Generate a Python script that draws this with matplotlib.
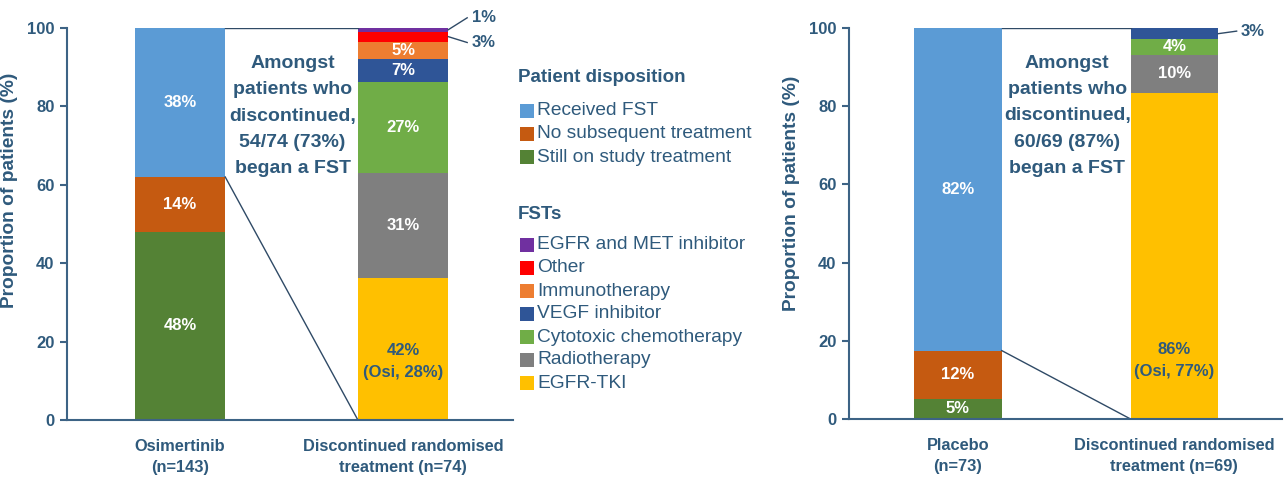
import matplotlib.pyplot as plt
from matplotlib.patches import Rectangle

TEXT = '#2F5A7C'
SPINE = '#3D6385'
LINK = '#2F4A66'
BOLD = ['Liberation Sans', 'DejaVu Sans']
REGULAR = ['Liberation Sans', 'DejaVu Sans']

# patient disposition (bottom -> top)
disp_names = ['Still on study treatment', 'No subsequent treatment', 'Received FST']
disp_colors = ['#548235', '#C55A11', '#5B9BD5']

# first subsequent therapies (bottom -> top)
fst_names = ['EGFR-TKI', 'Radiotherapy', 'Cytotoxic chemotherapy', 'VEGF inhibitor',
             'Immunotherapy', 'Other', 'EGFR and MET inhibitor']
fst_colors = ['#FFC000', '#7F7F7F', '#70AD47', '#2F5597', '#ED7D31', '#FF0000', '#7030A0']

# left panel: osimertinib
left_groups = ['Osimertinib\n(n=143)', 'Discontinued randomised\ntreatment (n=74)']
left_disp = [48, 14, 38]
left_disp_labels = ['48%', '14%', '38%']
left_fst = [36.2, 26.7, 23.3, 6.0, 4.3, 2.6, 0.9]
left_fst_labels = ['42%\n(Osi, 28%)', '31%', '27%', '7%', '5%', '3%', '1%']
left_callout = 'Amongst\npatients who\ndiscontinued,\n54/74 (73%)\nbegan a FST'

# right panel: placebo
right_groups = ['Placebo\n(n=73)', 'Discontinued randomised\ntreatment (n=69)']
right_disp = [5.2, 12.3, 82.5]
right_disp_labels = ['5%', '12%', '82%']
right_fst = [83.5, 9.7, 3.9, 2.9]
right_fst_labels = ['86%\n(Osi, 77%)', '10%', '4%', '3%']
right_callout = 'Amongst\npatients who\ndiscontinued,\n60/69 (87%)\nbegan a FST'

W = 0.405
TKI_LABEL_Y = 15
LAB_FS = 12


def draw_panel(ax, groups, disp, disp_labels, fst, fst_labels, callout, outside):
    # outside: {segment index: label y} for tiny segments labelled beside the bar
    bottom = 0
    for h, c, lab in zip(disp, disp_colors, disp_labels):
        ax.bar(0, h, W, bottom=bottom, color=c, linewidth=0)
        ax.text(0, bottom + h / 2, lab, ha='center', va='center', color='white',
                fontsize=LAB_FS, fontweight='bold', family=BOLD)
        bottom += h
    fst_link = disp[0] + disp[1]

    bottom = 0
    for i, (h, lab) in enumerate(zip(fst, fst_labels)):
        ax.bar(1, h, W, bottom=bottom, color=fst_colors[i], linewidth=0)
        mid = bottom + h / 2
        if i in outside:
            ty = outside[i]
            ax.plot([1 + W / 2, 1 + W / 2 + 0.085], [mid, ty], color=LINK, lw=1, clip_on=False)
            ax.text(1 + W / 2 + 0.105, ty, lab, ha='left', va='center', color=TEXT,
                    fontsize=LAB_FS, fontweight='bold', family=BOLD)
        elif i == 0:
            ax.text(1, TKI_LABEL_Y, lab, ha='center', va='center', color=TEXT,
                    fontsize=LAB_FS, fontweight='bold', family=BOLD, linespacing=1.6)
        else:
            ax.text(1, mid, lab, ha='center', va='center', color='white',
                    fontsize=LAB_FS, fontweight='bold', family=BOLD)
        bottom += h

    # zoom lines from the "received FST" block to the FST bar
    ax.plot([W / 2, 1 - W / 2], [100, 100], color=LINK, lw=1)
    ax.plot([W / 2, 1 - W / 2], [fst_link, 0], color=LINK, lw=1)

    ax.text(0.505, 77.5, callout, ha='center', va='center', color=TEXT,
            fontsize=14, fontweight='bold', family=BOLD, linespacing=1.72)

    ax.set_ylim(0, 100)
    ax.set_xticks([0, 1])
    ax.set_xticklabels(groups, color=TEXT, fontsize=11.8, fontweight='bold',
                       family=BOLD, linespacing=1.55)
    ax.set_yticks(range(0, 101, 20))
    for t in ax.get_yticklabels():
        t.set_fontweight('bold')
        t.set_family(BOLD)
    ax.tick_params(axis='y', colors=SPINE, labelcolor=TEXT, labelsize=12,
                   length=5, width=1.5, direction='out', pad=4)
    ax.tick_params(axis='x', length=0, pad=13.5)
    ax.set_ylabel('Proportion of patients (%)', color=TEXT, fontsize=13.8,
                  fontweight='bold', family=BOLD)
    for s in ['top', 'right']:
        ax.spines[s].set_visible(False)
    for s in ['left', 'bottom']:
        ax.spines[s].set_color(SPINE)
        ax.spines[s].set_linewidth(1.5)


fig = plt.figure(figsize=(12.87, 4.87), dpi=100)
H = 487.0
WF = 1287.0

ax1 = fig.add_axes([67 / WF, (H - 420) / H, 446 / WF, 392 / H])
ax1.set_xlim(-0.507, 1.493)
draw_panel(ax1, left_groups, left_disp, left_disp_labels, left_fst, left_fst_labels,
           left_callout, {5: 96.3, 6: 102.6})
ax1.yaxis.set_label_coords(-0.11, 0.587)

ax2 = fig.add_axes([849 / WF, (H - 419) / H, 433 / WF, 391 / H])
ax2.set_xlim(-0.503, 1.497)
draw_panel(ax2, right_groups, right_disp, right_disp_labels, right_fst, right_fst_labels,
           right_callout, {3: 99.2})
ax2.yaxis.set_label_coords(-0.113, 0.578)


# legend drawn by hand between the panels
def legend_block(title, title_y, names, colors, first_y, step):
    fig.text(518 / WF, 1 - title_y / H, title, ha='left', va='center', color=TEXT,
             fontsize=13.5, fontweight='bold', family=REGULAR)
    for k, (n, c) in enumerate(zip(names, colors)):
        y = first_y + k * step
        fig.patches.append(Rectangle((520 / WF, 1 - (y + 7) / H), 14 / WF, 14 / H,
                                     transform=fig.transFigure, color=c, linewidth=0))
        fig.text(537 / WF, 1 - y / H, n, ha='left', va='center', color=TEXT,
                 fontsize=13.8, family=REGULAR)


legend_block('Patient disposition', 78, disp_names[::-1], disp_colors[::-1], 110.5, 23.3)
legend_block('FSTs', 215, fst_names[::-1], fst_colors[::-1], 245, 23)

fig.savefig('out.png', dpi=100)
